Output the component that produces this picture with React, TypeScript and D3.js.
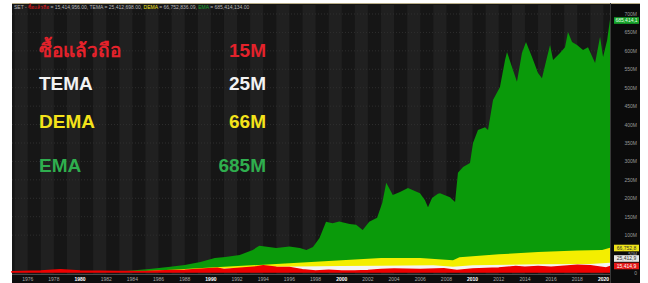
import React from 'react';
import * as d3 from 'd3';

// [year, value in millions]
const emaPoints: [number, number][] = [
  [1974.8, 1], [1976.5, 2], [1978.5, 3], [1981, 2], [1983.5, 2.5], [1985.3, 8],
  [1986.9, 14], [1988, 19], [1989.2, 27], [1990.3, 38], [1991.1, 41], [1992.2, 46],
  [1993.2, 60], [1993.7, 71], [1995, 65], [1996, 69], [1996.8, 65], [1997.3, 60],
  [1997.8, 68], [1998.3, 92], [1998.8, 136], [1999.3, 132], [1999.8, 137], [2000.6, 130],
  [2001.1, 128], [2001.6, 114], [2002.1, 136], [2002.7, 147], [2003.1, 188], [2003.4, 242],
  [2003.9, 209], [2004.45, 217], [2005.06, 228], [2005.45, 222], [2005.98, 214],
  [2006.36, 195], [2006.59, 176], [2006.9, 201], [2007.35, 212], [2007.51, 214],
  [2008.27, 203], [2008.66, 190], [2008.88, 269], [2009.27, 285], [2009.8, 296],
  [2010.03, 350], [2010.41, 385], [2010.95, 393], [2011.18, 385], [2011.56, 467],
  [2012.09, 502], [2012.48, 575], [2012.63, 597], [2013.01, 556], [2013.39, 516],
  [2013.77, 594], [2014.08, 624], [2014.54, 583], [2015.0, 540], [2015.3, 526],
  [2015.69, 583], [2015.92, 616], [2016.15, 575], [2016.68, 594], [2017.06, 610],
  [2017.29, 651], [2017.6, 624], [2017.98, 616], [2018.44, 602], [2018.82, 610],
  [2019.36, 567], [2019.74, 638], [2019.97, 583], [2020.28, 629], [2020.5, 685],
];
const demaPoints: [number, number][] = [
  [1974.8, 1], [1978.5, 2], [1985, 3], [1987, 6], [1990, 12], [1994, 20], [1996, 24],
  [1998, 28], [2000, 32], [2003, 38], [2006, 38], [2008.5, 32], [2009, 40], [2012, 48],
  [2015, 54], [2018, 58], [2019.9, 60], [2020.5, 66],
];
const temaPoints: [number, number][] = [
  [1974.8, 1], [1978.5, 1.5], [1985, 2], [1990, 8], [1995, 14], [2000, 16], [2003, 17],
  [2007, 18], [2008.5, 14], [2010, 18], [2015, 21], [2019, 22], [2020.5, 25],
];
const holdPoints: [number, number][] = [
  [1974.8, 1], [1977, 3], [1978.5, 6], [1980, 3], [1983, 1.5], [1985, 1.5], [1987, 4],
  [1988, 5], [1989.5, 8], [1990.5, 10], [1991, 7], [1993.5, 14], [1994, 17], [1995, 13],
  [1996, 12], [1997, 6], [1998, 3], [1999, 5], [2000, 3], [2001, 3], [2002, 4], [2003, 7],
  [2004, 8], [2006, 7], [2007.8, 9], [2008.8, 4], [2010, 8], [2012, 11], [2013.3, 15],
  [2014, 13], [2015, 15], [2016, 13], [2018, 18], [2019, 17], [2020.2, 11], [2020.5, 15],
];

const yearTicks = [1976, 1978, 1980, 1982, 1984, 1986, 1988, 1990, 1992, 1994, 1996, 1998,
  2000, 2002, 2004, 2006, 2008, 2010, 2012, 2014, 2016, 2018, 2020];
const valueTicks = [100, 150, 200, 250, 300, 350, 400, 450, 500, 550, 600, 650, 700];

const legendNames = ['ซื้อแล้วถือ', 'TEMA', 'DEMA', 'EMA'];
const legendValues = ['15M', '25M', '66M', '685M'];
const legendColors = ['#e4222b', '#f2f2f2', '#f4e31a', '#2fae4e'];

const lastTags = [
  { v: 685, label: '685,414,1', bg: '#16a32a', fg: '#e8ffe8' },
  { v: 66, label: '66,752,8', bg: '#eee21a', fg: '#333' },
  { v: 25, label: '25,412,9', bg: '#e6e6e6', fg: '#333' },
  { v: 15, label: '15,414,9', bg: '#e41818', fg: '#fff' },
];

const App = () => {
  const W = 648, H = 283;
  const left = 12, right = 610, panelR = 640, top = 3;
  const x = d3.scaleLinear().domain([1974.8, 2020.5]).range([left, right]);
  const y = d3.scaleLinear().domain([0, 700]).range([272, 14]);

  const area = d3.area<[number, number]>()
    .x(d => x(d[0]))
    .y0(y(0))
    .y1(d => y(d[1]));

  const bands = d3.range(1975, 2021, 2);

  return (
    <svg width={W} height={H} style={{ position: 'absolute', left: 0, top: 0, background: '#fff' }}
      fontFamily="'Liberation Sans', Arial, sans-serif">
      <rect x={left} y={top} width={panelR - left} height={H - top} fill="#161616" />
      {bands.map(b => (
        <rect key={b} x={x(b)} y={top + 2} width={Math.max(0, Math.min(x(b + 1), right) - x(b))}
          height={274 - top - 2} fill="#202020" />
      ))}
      {valueTicks.map(v => (
        <line key={v} x1={left} x2={right} y1={y(v)} y2={y(v)} stroke="#2e2e2e" strokeDasharray="1,2" />
      ))}
      <line x1={left} x2={panelR} y1={top + 0.5} y2={top + 0.5} stroke="#b9ae88" strokeWidth={1.2} />

      <path d={area(emaPoints) || ''} fill="#0a9a0a" />
      <path d={area(demaPoints) || ''} fill="#f4ee00" />
      <path d={area(temaPoints) || ''} fill="#f4f4f4" />
      <path d={area(holdPoints) || ''} fill="#ee0000" stroke="#ee0000" strokeWidth={1.5} />

      <line x1={left} x2={panelR} y1={274.5} y2={274.5} stroke="#4a4a4a" />
      <rect x={left} y={275} width={panelR - left} height={H - 275} fill="#0e0e0e" />
      {yearTicks.map(t => (
        <text key={t} x={x(t)} y={281} fontSize={5} textAnchor="middle"
          fill={t % 10 === 0 ? '#ffffff' : '#a8a8a8'} fontWeight={t % 10 === 0 ? 'bold' : 'normal'}>
          {t}
        </text>
      ))}

      <rect x={right} y={top + 1} width={panelR - right} height={H - top - 1} fill="#0b0b0b" />
      <line x1={right + 0.5} x2={right + 0.5} y1={top} y2={H} stroke="#3a3a3a" />
      {valueTicks.map(v => (
        <text key={v} x={637} y={y(v) + 2} fontSize={5} textAnchor="end" fill="#9a9a9a">{v}M</text>
      ))}
      <text x={637} y={y(50) + 2} fontSize={4.5} textAnchor="end" fill="#9a9a9a">50M</text>
      <text x={637} y={y(0) + 3} fontSize={5} textAnchor="end" fill="#9a9a9a">0</text>
      {lastTags.map((t, i) => {
        const cy = i === 0 ? y(t.v) + 1 : i === 1 ? 248 : i === 2 ? 258.5 : 266;
        return (
          <g key={t.label}>
            <rect x={614} y={cy - 3.3} width={25} height={6.6} fill={t.bg} />
            <text x={626.5} y={cy + 1.8} fontSize={5} textAnchor="middle" fill={t.fg}>{t.label}</text>
          </g>
        );
      })}

      <text x={14} y={9} fontSize={5} fill="#b5b5b5">
        <tspan>SET - </tspan>
        <tspan fill="#e41818">ซื้อแล้วถือ</tspan>
        <tspan> = 15,414,956.00, TEMA = 25,412,698.00, </tspan>
        <tspan fill="#eee21a">DEMA</tspan>
        <tspan> = 66,752,836.09, </tspan>
        <tspan fill="#16a32a">EMA</tspan>
        <tspan> = 685,414,134.00</tspan>
      </text>

      {legendNames.map((n, i) => {
        const by = [57, 90, 128, 172][i];
        return (
          <g key={n} fontWeight="bold" fontSize={19} fill={legendColors[i]}>
            <text x={39} y={by}>{n}</text>
            <text x={266} y={by} textAnchor="end">{legendValues[i]}</text>
          </g>
        );
      })}
    </svg>
  );
};

export default App;
